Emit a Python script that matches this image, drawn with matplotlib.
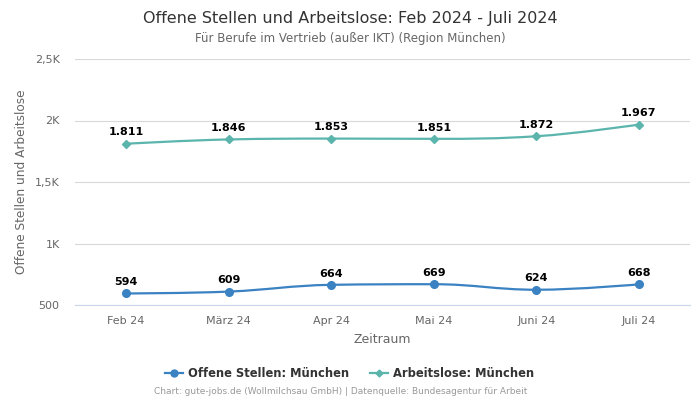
import matplotlib
matplotlib.use("Agg")
import matplotlib.pyplot as plt
from matplotlib.path import Path
from matplotlib.patches import PathPatch
from matplotlib.lines import Line2D
from matplotlib.ticker import FixedLocator, FuncFormatter

# data
months = ["Feb 24", "März 24", "Apr 24", "Mai 24", "Juni 24", "Juli 24"]
offene_stellen = [594, 609, 664, 669, 624, 668]
arbeitslose = [1811, 1846, 1853, 1851, 1872, 1967]

blue = "#3a82c2"
teal = "#5bb5ad"


# Highcharts-like spline path through the points
def spline_path(xs, ys, smoothing=1.5):
    denom = smoothing + 1
    n = len(xs)
    left = [None] * n
    right = [None] * n
    for i in range(1, n - 1):
        x, y = xs[i], ys[i]
        lx, ly = xs[i - 1], ys[i - 1]
        nx, ny = xs[i + 1], ys[i + 1]
        lcx = (smoothing * x + lx) / denom
        lcy = (smoothing * y + ly) / denom
        rcx = (smoothing * x + nx) / denom
        rcy = (smoothing * y + ny) / denom
        if rcx != lcx:
            corr = (rcy - lcy) * (rcx - x) / (rcx - lcx) + y - rcy
            lcy += corr
            rcy += corr
            if lcy > ly and lcy > y:
                lcy = max(ly, y)
                rcy = 2 * y - lcy
            elif lcy < ly and lcy < y:
                lcy = min(ly, y)
                rcy = 2 * y - lcy
            if rcy > ny and rcy > y:
                rcy = max(ny, y)
                lcy = 2 * y - rcy
            elif rcy < ny and rcy < y:
                rcy = min(ny, y)
                lcy = 2 * y - rcy
        left[i] = (lcx, lcy)
        right[i] = (rcx, rcy)
    verts = [(xs[0], ys[0])]
    codes = [Path.MOVETO]
    for i in range(1, n):
        c1 = right[i - 1] if right[i - 1] else (xs[i - 1], ys[i - 1])
        c2 = left[i] if left[i] else (xs[i], ys[i])
        verts += [c1, c2, (xs[i], ys[i])]
        codes += [Path.CURVE4] * 3
    return Path(verts, codes)


fig = plt.figure(figsize=(7, 4), dpi=100)
ax = fig.add_axes([0.107, 0.2375, 0.879, 0.615])

xs = list(range(len(months)))
for vals, col, mk, ms in [(arbeitslose, teal, "D", 4), (offene_stellen, blue, "o", 5.5)]:
    ax.add_patch(PathPatch(spline_path(xs, vals), fill=False, edgecolor=col, lw=1.6, zorder=3))
    ax.plot(xs, vals, ls="none", marker=mk, ms=ms, color=col, zorder=4)
    for x, v in zip(xs, vals):
        lab = str(v) if v < 1000 else f"{v / 1000:.3f}"
        ax.annotate(lab, (x, v), xytext=(0, 4.5), textcoords="offset points",
                    ha="center", va="bottom", fontsize=8, fontweight="bold", color="black")

ax.set_xlim(-0.5, len(months) - 0.5)
ax.set_ylim(500, 2500)
ax.set_xticks(xs)
ax.set_xticklabels(months)
ax.yaxis.set_major_locator(FixedLocator([500, 1000, 1500, 2000, 2500]))


def kfmt(v, pos):
    if v < 1000:
        return f"{v:.0f}"
    s = f"{v / 1000:g}K"
    return s.replace(".", ",")


ax.yaxis.set_major_formatter(FuncFormatter(kfmt))
ax.grid(axis="y", color="#d8d8d8", lw=0.8)
ax.set_axisbelow(True)
for s in ["top", "right", "left"]:
    ax.spines[s].set_visible(False)
ax.spines["bottom"].set_color("#ccd6eb")
ax.tick_params(axis="both", length=0, labelsize=8, labelcolor="#666666")
ax.tick_params(axis="x", pad=8)
ax.tick_params(axis="y", pad=11)
ax.set_xlabel("Zeitraum", fontsize=9, color="#666666", labelpad=5)
ax.set_ylabel("Offene Stellen und Arbeitslose", fontsize=8.7, color="#666666", labelpad=5)

fig.text(0.5, 0.955, "Offene Stellen und Arbeitslose: Feb 2024 - Juli 2024",
         ha="center", va="center", fontsize=11.5, color="#333333")
fig.text(0.5, 0.903, "Für Berufe im Vertrieb (außer IKT) (Region München)",
         ha="center", va="center", fontsize=8.5, color="#666666")

handles = [
    Line2D([], [], color=blue, marker="o", ms=5, lw=1.6),
    Line2D([], [], color=teal, marker="D", ms=3.5, lw=1.6),
]
fig.legend(handles, ["Offene Stellen: München", "Arbeitslose: München"],
           loc="center", bbox_to_anchor=(0.5, 0.066), ncol=2, frameon=False,
           prop={"size": 8.3, "weight": "bold"}, labelcolor="#333333",
           handlelength=1.5, handletextpad=0.5, columnspacing=1.8)
fig.text(0.486, 0.02, "Chart: gute-jobs.de (Wollmilchsau GmbH) | Datenquelle: Bundesagentur für Arbeit",
         ha="center", va="center", fontsize=6.5, color="#999999")

fig.savefig("out.png", dpi=100)
